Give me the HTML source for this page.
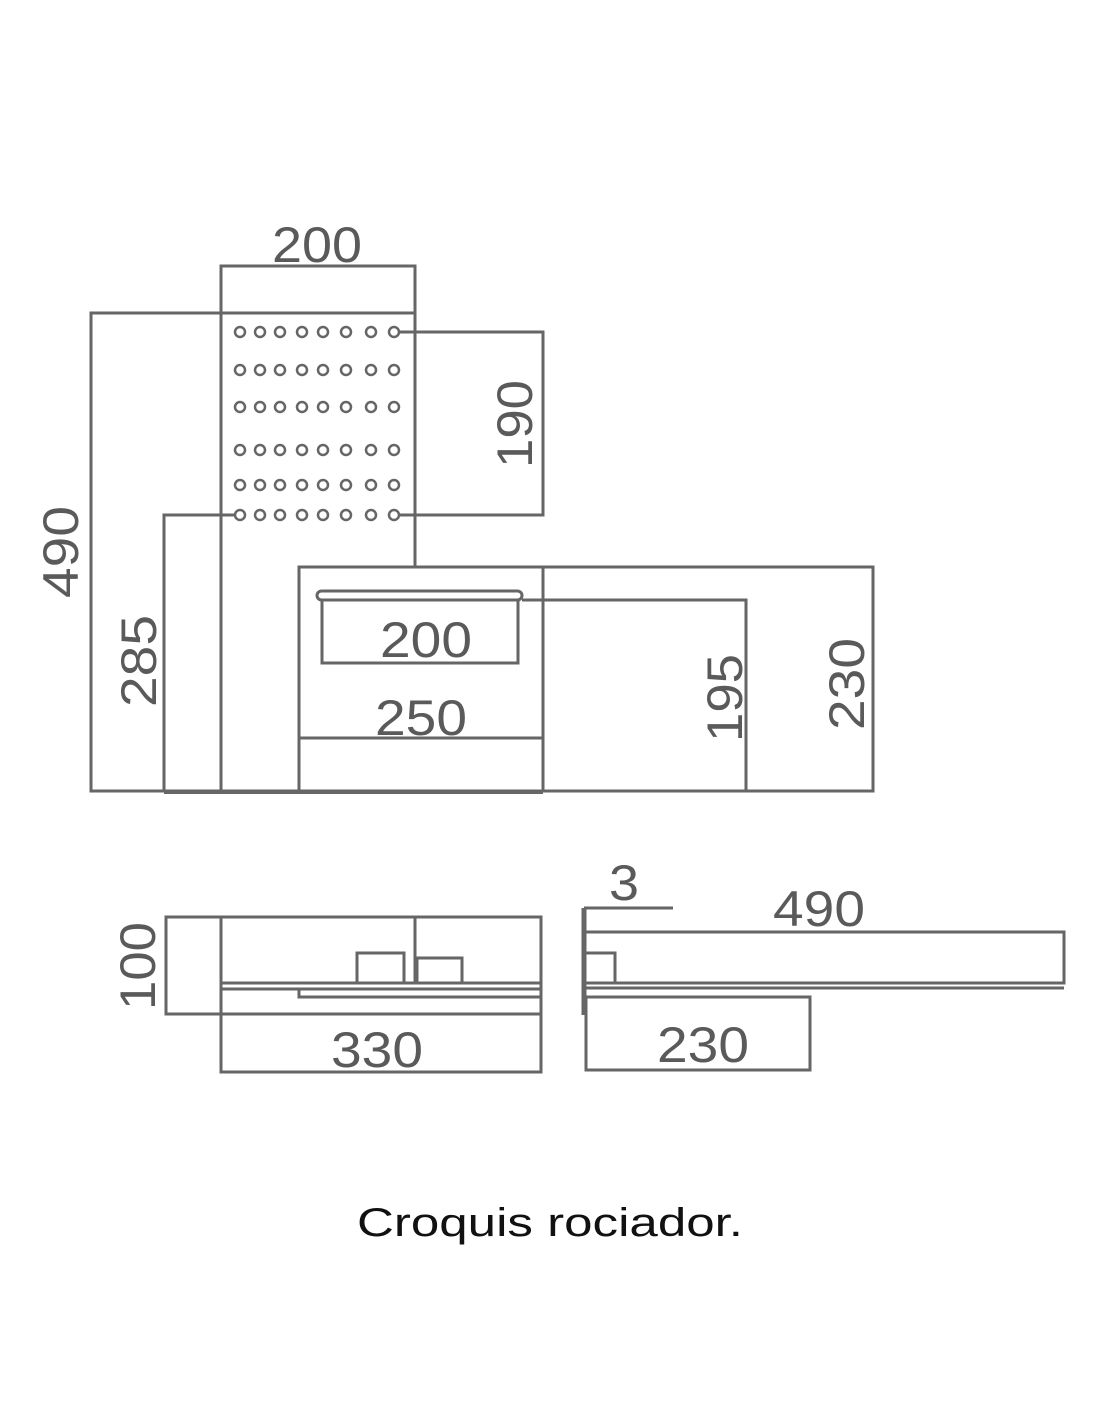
<!DOCTYPE html>
<html><head><meta charset="utf-8"><style>
html,body{margin:0;padding:0;background:#fff;}
svg{display:block;}
text{font-family:"Liberation Sans",sans-serif;fill:#5a5a5a;}
</style></head><body>
<svg width="1100" height="1422" viewBox="0 0 1100 1422" xmlns="http://www.w3.org/2000/svg">
<defs>
<g id="row" fill="none" stroke="#666" stroke-width="2.5">
<circle cx="240" cy="0" r="5"/><circle cx="260" cy="0" r="5"/><circle cx="280" cy="0" r="5"/><circle cx="302" cy="0" r="5"/><circle cx="323" cy="0" r="5"/><circle cx="346" cy="0" r="5"/><circle cx="371" cy="0" r="5"/><circle cx="394" cy="0" r="5"/>
</g>
</defs>
<g fill="none" stroke="#666" stroke-width="3">
<polyline points="221,313 221,266 415,266 415,313"/>
<line x1="221" y1="313" x2="221" y2="791"/>
<line x1="415" y1="266" x2="415" y2="567"/>
<polyline points="415,313 91,313 91,791 543,791"/>
<polyline points="399,332 543,332 543,515 399,515"/>
<polyline points="235,515 164,515 164,792"/>
<line x1="164" y1="792" x2="543" y2="792" stroke-width="4"/>
<rect x="299" y="567" width="244" height="224"/>
<polyline points="543,567 873,567 873,791 543,791"/>
<line x1="299" y1="738" x2="543" y2="738"/>
<rect x="317" y="591" width="205" height="9" rx="4.5"/>
<polyline points="322,600 322,663 518,663 518,600"/>
<polyline points="522,600 746,600 746,791"/>
<polyline points="221,917 166,917 166,1014 221,1014"/>
<rect x="221" y="917" width="320" height="97"/>
<line x1="415" y1="917" x2="415" y2="983"/>
<rect x="357" y="953" width="47" height="30"/>
<rect x="417" y="958" width="45" height="25"/>
<line x1="221" y1="983" x2="541" y2="983"/>
<line x1="221" y1="989" x2="541" y2="989"/>
<polyline points="541,997 299,997 299,990"/>
<polyline points="221,1014 221,1072 541,1072 541,1014"/>
<line x1="584" y1="908" x2="584" y2="1015" stroke-width="5"/>
<line x1="584" y1="908" x2="673" y2="908"/>
<polyline points="586,932 1064,932 1064,983 586,983"/>
<line x1="586" y1="988" x2="1064" y2="988"/>
<polyline points="586,953 615,953 615,983"/>
<polyline points="586,997 810,997 810,1070 586,1070 586,997"/>
</g>
<use href="#row" y="332"/><use href="#row" y="370"/><use href="#row" y="407"/><use href="#row" y="450"/><use href="#row" y="485"/><use href="#row" y="515"/>
<g font-size="50">
<text x="272" y="262" textLength="90" lengthAdjust="spacingAndGlyphs">200</text>
<text x="380" y="657" textLength="92" lengthAdjust="spacingAndGlyphs">200</text>
<text x="375" y="735" textLength="92" lengthAdjust="spacingAndGlyphs">250</text>
<text x="331" y="1067" textLength="92" lengthAdjust="spacingAndGlyphs">330</text>
<text x="657" y="1062" textLength="92" lengthAdjust="spacingAndGlyphs">230</text>
<text x="773" y="926" textLength="92" lengthAdjust="spacingAndGlyphs">490</text>
<text x="609" y="900" textLength="30" lengthAdjust="spacingAndGlyphs">3</text>
<text transform="translate(532,468) rotate(-90)" textLength="88" lengthAdjust="spacingAndGlyphs">190</text>
<text transform="translate(78,598) rotate(-90)" textLength="92" lengthAdjust="spacingAndGlyphs">490</text>
<text transform="translate(156,707) rotate(-90)" textLength="92" lengthAdjust="spacingAndGlyphs">285</text>
<text transform="translate(742,742) rotate(-90)" textLength="88" lengthAdjust="spacingAndGlyphs">195</text>
<text transform="translate(864,730) rotate(-90)" textLength="92" lengthAdjust="spacingAndGlyphs">230</text>
<text transform="translate(155,1010) rotate(-90)" textLength="88" lengthAdjust="spacingAndGlyphs">100</text>
</g>
<text x="357" y="1236" font-size="40" style="fill:#111" textLength="386" lengthAdjust="spacingAndGlyphs">Croquis rociador.</text>
</svg>
</body></html>
